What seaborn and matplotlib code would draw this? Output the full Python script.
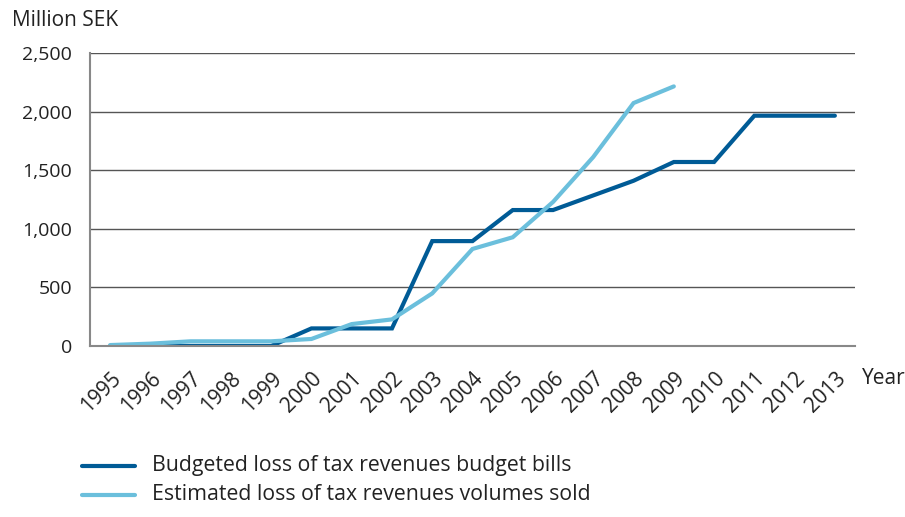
import numpy as np
import pandas as pd
import matplotlib
matplotlib.use("Agg")
import matplotlib.pyplot as plt
from matplotlib.ticker import FixedLocator, FuncFormatter
import seaborn as sns

years = list(range(1995, 2014))
budgeted = [0, 0, 0, 0, 0, 150, 150, 150, 895, 895, 1160, 1160,
            1285, 1410, 1570, 1570, 1965, 1965, 1965]
est_years = list(range(1995, 2010))
estimated = [8, 20, 40, 40, 40, 60, 187, 227, 449, 828, 928, 1229, 1613, 2073, 2215]

label_budget = "Budgeted loss of tax revenues budget bills"
label_est = "Estimated loss of tax revenues volumes sold"

df = pd.concat([
    pd.DataFrame({"year": years, "value": budgeted, "series": label_budget}),
    pd.DataFrame({"year": est_years, "value": estimated, "series": label_est}),
], ignore_index=True)

sns.set_style("white")
plt.rcParams["font.family"] = ["Open Sans", "DejaVu Sans"]

dark = "#005b96"
light = "#6bbfdc"
text_col = "#222222"

fig = plt.figure(figsize=(9.05, 5.17), dpi=100)
ax = fig.add_axes([90 / 905, 1 - 346 / 517, (855 - 90) / 905, (346 - 53) / 517])

sns.lineplot(data=df, x="year", y="value", hue="series",
             palette={label_budget: dark, label_est: light},
             hue_order=[label_budget, label_est],
             linewidth=3.0, ax=ax, legend=False, sort=False)
for ln in ax.lines:
    ln.set_solid_capstyle("round")
    ln.set_solid_joinstyle("miter")

ax.set_xlim(1994.5, 2013.5)
ax.set_ylim(0, 2500)
ax.set_yticks([0, 500, 1000, 1500, 2000, 2500])
ax.yaxis.set_major_formatter(FuncFormatter(lambda v, p: f"{int(v):,}"))
ax.yaxis.grid(True, color="#555555", linewidth=1.0)
ax.set_axisbelow(True)

ax.set_xticks(years)
ax.set_xticklabels([str(y) for y in years], rotation=45, ha="right",
                   va="top", rotation_mode="anchor")
ax.xaxis.set_minor_locator(FixedLocator([y - 0.5 for y in years] + [2013.5]))
ax.tick_params(axis="x", which="major", length=0, pad=16, labelsize=15, colors=text_col)
ax.tick_params(axis="x", which="minor", length=6, width=1, color="#777777")
ax.tick_params(axis="y", which="major", length=6, width=1, color="#777777",
               pad=7, labelsize=14, labelcolor=text_col)

for side in ["top", "right"]:
    ax.spines[side].set_visible(False)
for side in ["left", "bottom"]:
    ax.spines[side].set_color("#888888")
    ax.spines[side].set_linewidth(1.5)

ax.set_xlabel("")
ax.set_ylabel("")

fig.text(12 / 905, 1 - 26 / 517, "Million SEK", fontsize=15, color=text_col,
         ha="left", va="baseline")
fig.text(862 / 905, 1 - 384 / 517, "Year", fontsize=15, color=text_col,
         ha="left", va="baseline")

# legend drawn in figure space below the axes
for i, (lab, col) in enumerate([(label_budget, dark), (label_est, light)]):
    yy = 1 - (466 + 29 * i) / 517
    fig.add_artist(plt.Line2D([82 / 905, 135 / 905], [yy, yy], color=col,
                              linewidth=3.0, solid_capstyle="round",
                              transform=fig.transFigure))
    fig.text(152 / 905, yy, lab, fontsize=15.3, color=text_col,
             ha="left", va="center")

fig.savefig("out.png", dpi=100)
